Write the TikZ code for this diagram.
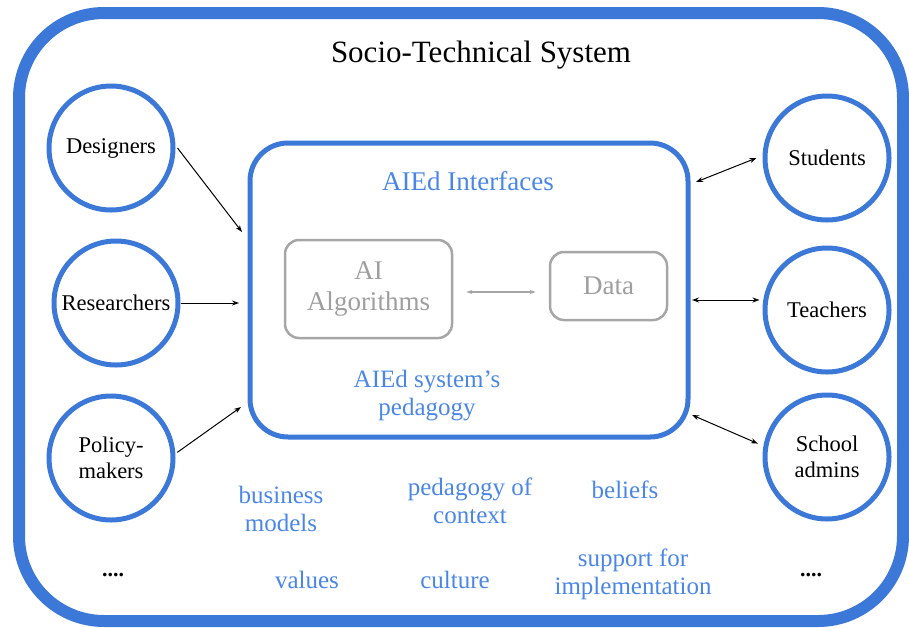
\documentclass[tikz,border=0pt]{standalone}
\usepackage{fontspec}
\setmainfont{Liberation Serif}
\usetikzlibrary{arrows.meta}
\definecolor{bstroke}{HTML}{3C78D8}
\definecolor{btext}{HTML}{4A86E8}
\definecolor{gline}{HTML}{A6A6A6}
\definecolor{gtext}{HTML}{9E9E9E}
\tikzset{
  actor/.style={circle, draw=bstroke, line width=5pt, minimum size=124pt, inner sep=0pt, align=center, font=\fontsize{22.5}{26}\selectfont},
  bluelbl/.style={text=btext, align=center, font=\fontsize{25}{28}\selectfont},
  greybox/.style={draw=gline, line width=2.5pt, rounded corners=14pt, text=gtext, align=center, font=\fontsize{27}{31}\selectfont},
  conn/.style={line width=1pt, -{Stealth[length=7pt,width=5pt]}},
  conn2/.style={line width=1pt, {Stealth[length=7pt,width=5pt]}-{Stealth[length=7pt,width=5pt]}},
}
\begin{document}
\begin{tikzpicture}[x=1pt,y=-1pt]
\useasboundingbox (0,0) rectangle (909,627);
\draw[bstroke, line width=12pt, rounded corners=85pt] (19,13) rectangle (903,621);
\node[font=\fontsize{31}{36}\selectfont] (title) at (481,55) {Socio-Technical System};

% inner box
\node[draw=bstroke, line width=5pt, rounded corners=38pt, minimum width=438pt, minimum height=294pt, inner sep=0pt] (aied) at (469,290) {};
\node[text=btext, font=\fontsize{27}{30}\selectfont] (iface) at (468,181) {AIEd Interfaces};
\node[greybox, minimum width=167pt, minimum height=98pt, inner sep=0pt] (alg) at (368.5,289) {AI\\Algorithms};
\node[greybox, minimum width=117pt, minimum height=68pt, inner sep=0pt] (dat) at (608.5,286) {Data};
\coordinate (gy) at (0,292);
\draw[gline, line width=1.2pt, {Stealth[length=6pt,width=4pt]}-{Stealth[length=6pt,width=4pt]}, shorten <=13pt, shorten >=13pt] (alg.east |- gy) -- (dat.west |- gy);
\node[bluelbl] (ped) at (427,396) {AIEd system's\\pedagogy};

% actors
\node[actor] (des) at (111,148) {Designers};
\node[actor] (res) at (116,303) {Researchers};
\node[actor] (pol) at (111,458) {Policy-\\makers};
\node[actor] (stu) at (827,158) {Students};
\node[actor] (tea) at (827,310) {Teachers};
\node[actor] (adm) at (827,457) {School\\admins};

\coordinate (dA) at (242,232);
\coordinate (rA) at (239,303);
\coordinate (pA) at (241,407);
\coordinate (sA) at (696,182);
\coordinate (tA) at (692,300);
\coordinate (aA) at (692,415);
\draw[conn] ([xshift=2pt]des.east) -- (dA);
\draw[conn] (res.east) -- (rA);
\draw[conn] ([xshift=2pt]pol.5) -- (pA);
\draw[conn2] (sA) -- ([xshift=-6pt]stu.west);
\draw[conn2] (tA) -- ([xshift=-3pt,yshift=10pt]tea.west);
\draw[conn2] (aA) -- ([xshift=-6pt]adm.168);

% context labels
\node[bluelbl] (bus) at (281,509) {business\\models};
\node[bluelbl] (poc) at (470,501) {pedagogy of\\context};
\node[bluelbl] (bel) at (625,490) {beliefs};
\node[bluelbl] (val) at (307,580) {values};
\node[bluelbl] (cul) at (455,580) {culture};
\node[bluelbl] (sup) at (633,574) {support for\\implementation};

\node[font=\fontsize{22}{26}\selectfont\bfseries] (dl) at (113,575) {....};
\node[font=\fontsize{22}{26}\selectfont\bfseries] (dr) at (811,575) {....};
\end{tikzpicture}
\end{document}
